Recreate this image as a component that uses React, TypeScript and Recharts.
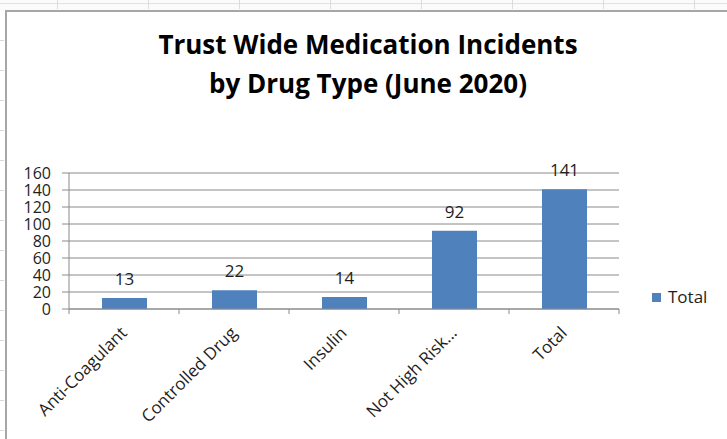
import React from 'react';
import { BarChart, Bar, XAxis, YAxis, CartesianGrid, LabelList, Legend } from 'recharts';

const categories = ['Anti-Coagulant', 'Controlled Drug', 'Insulin', 'Not High Risk...', 'Total'];
const totals = [13, 22, 14, 92, 141];
const yTicks = [0, 20, 40, 60, 80, 100, 120, 140, 160];
const titleLines = ['Trust Wide Medication Incidents', 'by Drug Type (June 2020)'];
const seriesName = 'Total';

const data = categories.map((name, i) => ({ name, value: totals[i] }));

const FONT = '"Open Sans", "Noto Sans", sans-serif';
const GRID = '#8a8a8a';
const BAR = '#4F81BD';
const TEXT = '#1e1e1e';

const colLines = [57, 148, 239, 330, 421, 512, 603, 694];
const rowLines = [40, 70, 100, 130, 160, 190, 220, 250, 280, 310, 340, 370, 400, 430];

function XTick(props: any) {
  const { x, y, payload, index, visibleTicksCount } = props;
  const off = payload && payload.offset ? payload.offset : 55;
  return (
    <g>
      <line x1={x - off} y1={y} x2={x - off} y2={y + 5} stroke={GRID} strokeWidth={1} />
      {index === visibleTicksCount - 1 && (
        <line x1={x + off} y1={y} x2={x + off} y2={y + 5} stroke={GRID} strokeWidth={1} />
      )}
      <text
        x={x + 4}
        y={y + 25}
        textAnchor="end"
        transform={`rotate(-45, ${x + 4}, ${y + 25})`}
        fill={TEXT}
        fontSize={17}
        fontFamily={FONT}
      >
        {payload.value}
      </text>
    </g>
  );
}

function LegendContent() {
  return (
    <div style={{ display: 'flex', alignItems: 'center', height: 24, fontFamily: FONT, fontSize: 17, color: TEXT }}>
      <span style={{ display: 'inline-block', width: 9, height: 9, background: BAR }} />
      <span style={{ marginLeft: 7, lineHeight: '24px' }}>{seriesName}</span>
    </div>
  );
}

export default function App() {
  return (
    <div style={{ position: 'absolute', left: 0, top: 0, width: 727, height: 439, background: '#fff', overflow: 'hidden', fontFamily: FONT }}>
      {/* spreadsheet background */}
      <div style={{ position: 'absolute', left: 0, top: 0, width: 727, height: 10, background: '#fbfbfb' }} />
      <div style={{ position: 'absolute', left: 0, top: 3, width: 727, height: 1, background: '#e2e2e2' }} />
      {colLines.map((cx) => (
        <div key={'c' + cx} style={{ position: 'absolute', left: cx, top: 0, width: 1, height: 9, background: '#dcdcdc' }} />
      ))}
      {rowLines.map((ry) => (
        <div key={'r' + ry} style={{ position: 'absolute', left: 0, top: ry, width: 4, height: 1, background: '#d8d8d8' }} />
      ))}
      {/* chart frame */}
      <div style={{ position: 'absolute', left: 5, top: 10, width: 722, height: 429, background: '#fff', borderLeft: '2px solid #a6a6a6', borderTop: '2px solid #a6a6a6', boxSizing: 'border-box' }} />
      <div style={{ position: 'absolute', left: 0, top: 0 }}>
        <BarChart
          width={727}
          height={439}
          data={data}
          margin={{ top: 173, right: 108, bottom: 30, left: 0 }}
        >
          <CartesianGrid vertical={false} stroke={GRID} strokeWidth={1} />
          <XAxis
            dataKey="name"
            interval={0}
            height={100}
            axisLine={{ stroke: GRID }}
            tickLine={false}
            tickSize={0}
            tickMargin={0}
            tick={<XTick />}
          />
          <YAxis
            width={69}
            domain={[0, 160]}
            ticks={yTicks}
            interval={0}
            axisLine={{ stroke: GRID }}
            tickLine={{ stroke: GRID }}
            tickSize={7}
            tickMargin={11}
            tick={{ fill: TEXT, fontSize: 16, fontFamily: FONT }}
          />
          <Legend
            layout="horizontal"
            verticalAlign="middle"
            align="center"
            content={<LegendContent />}
            wrapperStyle={{ position: 'absolute', left: 652, top: 285, width: 70, height: 24 }}
          />
          <Bar dataKey="value" name={seriesName} fill={BAR} barSize={45} isAnimationActive={false}>
            <LabelList dataKey="value" position="top" offset={13} fill={TEXT} fontSize={17} fontFamily={FONT} />
          </Bar>
        </BarChart>
      </div>
      <svg style={{ position: 'absolute', left: 0, top: 0 }} width={727} height={120}>
        <text x={368} y={54} textAnchor="middle" fontFamily={FONT} fontWeight={700} fontSize={26} fill="#000">
          {titleLines[0]}
        </text>
        <text x={368} y={93} textAnchor="middle" fontFamily={FONT} fontWeight={700} fontSize={26} fill="#000">
          {titleLines[1]}
        </text>
      </svg>
    </div>
  );
}
